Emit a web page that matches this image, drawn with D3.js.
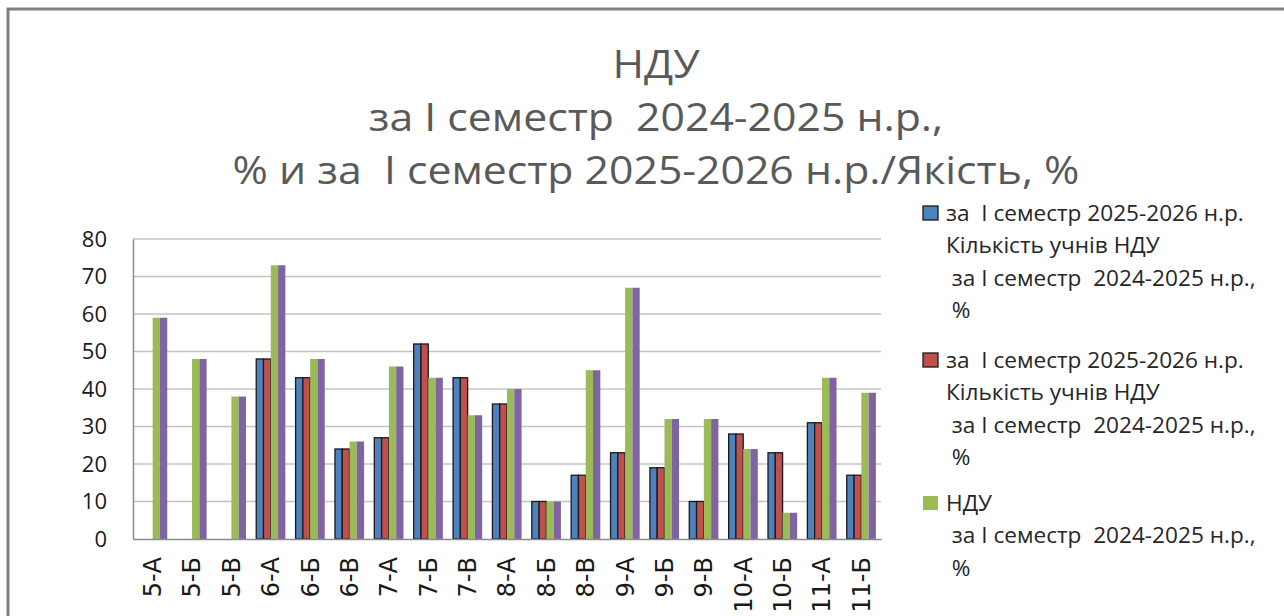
<!DOCTYPE html>
<html>
<head>
<meta charset="utf-8">
<script src="https://cdn.jsdelivr.net/npm/d3@7"></script>
<style>
  body { margin: 0; background: #fff; }
  svg text { white-space: pre; }
</style>
</head>
<body>
<div id="chart"></div>
<script>
// classes on the x axis
var classes = ["5-А", "5-Б", "5-В", "6-А", "6-Б", "6-В", "7-А", "7-Б", "7-В", "8-А",
               "8-Б", "8-В", "9-А", "9-Б", "9-В", "10-А", "10-Б", "11-А", "11-Б"];

// series values, %
var count2526a = [0, 0, 0, 48, 43, 24, 27, 52, 43, 36, 10, 17, 23, 19, 10, 28, 23, 31, 17];
var count2526b = [0, 0, 0, 48, 43, 24, 27, 52, 43, 36, 10, 17, 23, 19, 10, 28, 23, 31, 17];
var ndu2425    = [59, 48, 38, 73, 48, 26, 46, 43, 33, 40, 10, 45, 67, 32, 32, 24, 7, 43, 39];
var quality    = [59, 48, 38, 73, 48, 26, 46, 43, 33, 40, 10, 45, 67, 32, 32, 24, 7, 43, 39];

var yTicks = [0, 10, 20, 30, 40, 50, 60, 70, 80];

var titleLines = ["НДУ", "за І семестр  2024-2025 н.р.,", "% и за  І семестр 2025-2026 н.р./Якість, %"];

var seriesNames = [
    ["за  І семестр 2025-2026 н.р.", "Кількість учнів НДУ", " за І семестр  2024-2025 н.р.,", " %"],
    ["за  І семестр 2025-2026 н.р.", "Кількість учнів НДУ", " за І семестр  2024-2025 н.р.,", " %"],
    ["НДУ", " за І семестр  2024-2025 н.р.,", " %"],
    ["Якість, %"]
];
var seriesColors = ["#4f81bd", "#c0504d", "#9bbb59", "#8064a2"];
var seriesStroke = ["#1a1a1a", "#1a1a1a", "none", "none"];
var seriesValues = [count2526a, count2526b, ndu2425, quality];

var W = 1284, H = 616;
var plot = {left: 133, right: 881, top: 239, bottom: 539};

var svg = d3.select("#chart").append("svg")
    .attr("width", W)
    .attr("height", H);

// chart frame
svg.append("rect")
    .attr("x", 8).attr("y", 9)
    .attr("width", W + 20).attr("height", H + 20)
    .attr("fill", "none")
    .attr("stroke", "#7f7f7f")
    .attr("stroke-width", 3);

// title (a bit smaller font, stretched wide like the original)
svg.append("g").selectAll("text")
    .data(titleLines)
    .enter().append("text")
    .attr("x", 656)
    .attr("y", function(d, i) { return 78 + i * 53; })
    .attr("text-anchor", "middle")
    .style("font-family", "'Open Sans'")
    .style("font-size", "38.5px")
    .style("fill", "#595959")
    .text(function(d) { return d; })
    .each(function() {
        var len = this.getComputedTextLength();
        d3.select(this)
            .attr("textLength", len * 1.11)
            .attr("lengthAdjust", "spacingAndGlyphs");
    });

var x = d3.scaleBand()
    .domain(classes)
    .range([plot.left, plot.right])
    .paddingInner(0.26)
    .paddingOuter(0.13);

var xs = d3.scaleBand()
    .domain(d3.range(seriesValues.length))
    .range([0, x.bandwidth()]);

var y = d3.scaleLinear()
    .domain([0, 80])
    .range([plot.bottom, plot.top]);

// gridlines
svg.append("g").selectAll("line")
    .data(yTicks.slice(1))
    .enter().append("line")
    .attr("x1", plot.left).attr("x2", plot.right)
    .attr("y1", function(d) { return y(d); })
    .attr("y2", function(d) { return y(d); })
    .attr("stroke", "#c4c4c4")
    .attr("stroke-width", 1.5);

// bars
var groups = svg.append("g").selectAll("g")
    .data(classes)
    .enter().append("g")
    .attr("transform", function(d) { return "translate(" + x(d) + ",0)"; });

groups.selectAll("rect")
    .data(function(d, i) { return seriesValues.map(function(s, k) { return {k: k, v: s[i]}; }); })
    .enter().append("rect")
    .filter(function(d) { return d.v > 0; })
    .attr("x", function(d) { return xs(d.k); })
    .attr("y", function(d) { return y(d.v); })
    .attr("width", xs.bandwidth())
    .attr("height", function(d) { return y(0) - y(d.v); })
    .attr("fill", function(d) { return seriesColors[d.k]; })
    .attr("stroke", function(d) { return seriesStroke[d.k]; })
    .attr("stroke-width", 1.3);

// y axis
var yAxis = svg.append("g")
    .attr("transform", "translate(" + plot.left + ",0)")
    .call(d3.axisLeft(y).tickValues(yTicks).tickSize(0).tickPadding(26));
yAxis.select(".domain").attr("stroke", "#8c8c8c").attr("stroke-width", 1.5);
yAxis.selectAll("text")
    .style("font-family", "'Open Sans'")
    .style("font-size", "22px")
    .style("fill", "#1a1a1a");

// x axis
var xAxis = svg.append("g")
    .attr("transform", "translate(0," + plot.bottom + ")")
    .call(d3.axisBottom(x).tickSize(0));
xAxis.select(".domain").attr("stroke", "#8c8c8c").attr("stroke-width", 1.5);
xAxis.selectAll("text")
    .attr("transform", "rotate(-90)")
    .attr("x", -18)
    .attr("y", 0)
    .attr("dy", "0.35em")
    .style("text-anchor", "end")
    .style("font-family", "'DejaVu Sans'")
    .style("font-size", "24px")
    .style("fill", "#1a1a1a");

// legend (only the first three entries fit)
var legendTops = [213, 360, 503];
var legend = svg.append("g");
[0, 1, 2].forEach(function(k) {
    legend.append("rect")
        .attr("x", 923).attr("y", legendTops[k] - 7)
        .attr("width", 15).attr("height", 14)
        .attr("fill", seriesColors[k])
        .attr("stroke", seriesStroke[k])
        .attr("stroke-width", 1.3);
    legend.selectAll(null)
        .data(seriesNames[k])
        .enter().append("text")
        .attr("x", 946)
        .attr("y", function(d, i) { return legendTops[k] + i * 32.3; })
        .attr("dy", "0.36em")
        .style("font-family", "'Open Sans'")
        .style("font-size", "22.6px")
        .style("fill", "#262626")
        .text(function(d) { return d; });
});
</script>
</body>
</html>
